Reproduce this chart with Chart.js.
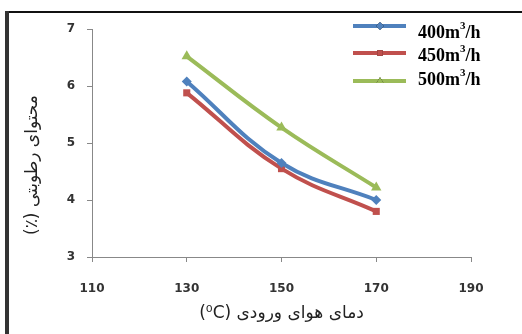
<!DOCTYPE html>
<html>
<head>
<meta charset="utf-8">
<script src="https://cdn.jsdelivr.net/npm/chart.js@4"></script>
<style>
  html, body { margin: 0; padding: 0; background: #fff; }
  #wrap { width: 522px; height: 334px; position: relative; }
</style>
</head>
<body>
<div id="wrap"><canvas id="myChart" width="522" height="334"></canvas></div>
<script>
const temps = [130, 150, 170]
const flow400 = [6.08, 4.65, 4.0]
const flow450 = [5.88, 4.55, 3.8]
const flow500 = [6.52, 5.27, 4.22]
const seriesNames = ['400m³/h', '450m³/h', '500m³/h']
const xTicks = [110, 130, 150, 170, 190]
const yTicks = [3, 4, 5, 6, 7]
const xTitle = 'دمای هوای ورودی (⁰C)'
const yTitle = 'محتوای رطوبتی (٪)'

const blue = '#4F81BD', red = '#C0504D', green = '#9BBB59'

function toPoints (values) {
    return temps.map((t, i) => ({ x: t, y: values[i] }))
}

// frame around the figure, like the scanned picture
const framePlugin = {
    id: 'frame',
    afterDraw (chart) {
        const ctx = chart.ctx
        ctx.save()
        ctx.fillStyle = '#111'
        ctx.fillRect(6, 11, 516, 2)
        ctx.fillStyle = '#333'
        ctx.fillRect(5, 11, 4, 323)
        ctx.restore()
    }
}

// persian axis titles need a right-to-left base direction
const titlesPlugin = {
    id: 'rtlTitles',
    afterDraw (chart) {
        const ctx = chart.ctx
        const area = chart.chartArea
        ctx.save()
        ctx.direction = 'rtl'
        ctx.textAlign = 'center'
        ctx.textBaseline = 'middle'
        ctx.fillStyle = '#222'
        ctx.font = '17px "DejaVu Sans"'
        ctx.fillText(xTitle, (area.left + area.right) / 2, 314)
        ctx.translate(33, 165)
        ctx.rotate(-Math.PI / 2)
        ctx.fillText(yTitle, 0, 0)
        ctx.restore()
    }
}

// legend drawn over the plot area (top right)
const legendPlugin = {
    id: 'overLegend',
    afterDraw (chart) {
        const ctx = chart.ctx
        const lineY = [26, 53, 81]
        const textY = [33, 56, 80]
        ctx.save()
        chart.data.datasets.forEach((ds, i) => {
            const y = lineY[i]
            ctx.strokeStyle = ds.borderColor
            ctx.lineWidth = 4
            ctx.beginPath()
            ctx.moveTo(353, y)
            ctx.lineTo(406, y)
            ctx.stroke()
            Chart.helpers.drawPoint(ctx, {
                pointStyle: ds.pointStyle, radius: 4, rotation: 0, borderWidth: 0
            }, 380, y)
            ctx.fillStyle = ds.borderColor
            ctx.fill()
            const name = seriesNames[i]
            const ty = textY[i]
            ctx.fillStyle = '#000'
            ctx.textBaseline = 'middle'
            ctx.textAlign = 'left'
            const parts = name.split('³')
            ctx.font = 'bold 18px "Liberation Serif"'
            ctx.fillText(parts[0], 418, ty)
            let w = ctx.measureText(parts[0]).width
            ctx.font = 'bold 11px "Liberation Serif"'
            ctx.fillText('3', 418 + w, ty - 7)
            w += ctx.measureText('3').width
            ctx.font = 'bold 18px "Liberation Serif"'
            ctx.fillText(parts[1], 418 + w, ty)
        })
        ctx.restore()
    }
}

var ctx = document.getElementById('myChart').getContext('2d')
var myChart = new Chart(ctx, {
    type: 'line',
    data: {
        datasets: [
            {
                label: seriesNames[0],
                data: toPoints(flow400),
                borderColor: blue,
                backgroundColor: blue,
                pointStyle: 'rectRot',
                pointRadius: 5,
            },
            {
                label: seriesNames[1],
                data: toPoints(flow450),
                borderColor: red,
                backgroundColor: red,
                pointStyle: 'rect',
                pointRadius: 5,
            },
            {
                label: seriesNames[2],
                data: toPoints(flow500),
                borderColor: green,
                backgroundColor: green,
                pointStyle: 'triangle',
                pointRadius: 6,
            },
        ]
    },
    options: {
        responsive: false,
        animation: false,
        devicePixelRatio: 1,
        layout: { padding: { top: 29, right: 51, left: 0, bottom: 0 } },
        elements: {
            line: { borderWidth: 4, tension: 0.4, fill: false },
            point: { borderWidth: 0 }
        },
        plugins: {
            legend: { display: false },
            tooltip: { enabled: false }
        },
        scales: {
            x: {
                type: 'linear',
                min: 110,
                max: 190,
                afterBuildTicks: (scale) => { scale.ticks = xTicks.map(v => ({ value: v })) },
                afterFit: (scale) => { scale.height = 77 },
                grid: {
                    display: true,
                    drawOnChartArea: false,
                    drawTicks: true,
                    tickLength: 5,
                    color: '#888',
                },
                border: { display: true, color: '#888', width: 1 },
                ticks: {
                    color: '#333',
                    padding: 20,
                    font: { family: 'DejaVu Sans', size: 12, weight: 'bold' },
                },
            },
            y: {
                min: 3,
                max: 7,
                afterBuildTicks: (scale) => { scale.ticks = yTicks.map(v => ({ value: v })) },
                afterFit: (scale) => { scale.width = 92 },
                grid: {
                    display: true,
                    drawOnChartArea: false,
                    drawTicks: true,
                    tickLength: 5,
                    color: '#888',
                },
                border: { display: true, color: '#888', width: 1 },
                ticks: {
                    color: '#333',
                    padding: 12,
                    font: { family: 'DejaVu Sans', size: 12, weight: 'bold' },
                },
            },
        },
    },
    plugins: [framePlugin, titlesPlugin, legendPlugin],
})
</script>
</body>
</html>
